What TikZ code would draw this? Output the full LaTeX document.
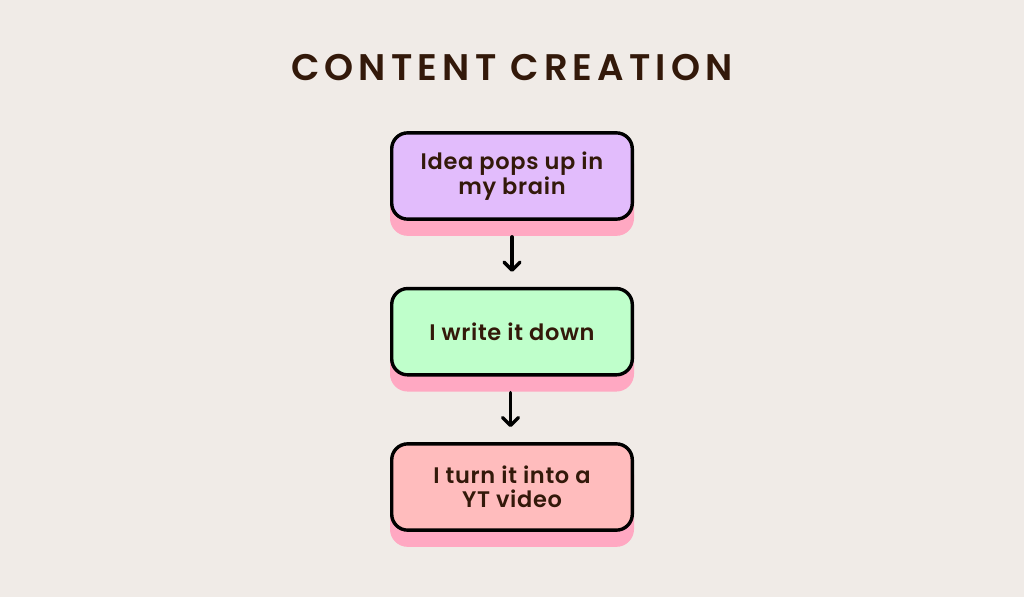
\documentclass[tikz,border=0pt]{standalone}
\usepackage{fontspec}
\setmainfont{Poppins}[UprightFont={* SemiBold},LetterSpace=3]
\newfontfamily\titlefont{Poppins}[UprightFont={* SemiBold},LetterSpace=14]
\usetikzlibrary{arrows.meta}
\definecolor{bg}{HTML}{F0EBE7}
\definecolor{ink}{HTML}{33190A}
\definecolor{lav}{HTML}{E2BCFC}
\definecolor{mint}{HTML}{BFFFCB}
\definecolor{rose}{HTML}{FFBCBD}
\definecolor{shade}{HTML}{FFA8C2}
\tikzset{
  flowbox/.style={rectangle, rounded corners=16pt, draw=black, line width=3.4pt,
    minimum width=240.6pt, minimum height=86.3pt, inner sep=0pt, align=center,
    text=ink, font=\fontsize{22.5}{24.5}\selectfont,
    preaction={fill=shade, draw=shade, transform canvas={yshift=-15pt}}},
  flowarrow/.style={draw=black, line width=3.4pt, line cap=round,
    -{Straight Barb[length=8pt,width=16pt,line width=3.4pt,round]}}
}
\begin{document}
\begin{tikzpicture}[x=1pt,y=-1pt]
\fill[bg] (0,0) rectangle (1024,597);
\useasboundingbox (0,0) rectangle (1024,597);
\node[text=ink, font=\titlefont\fontsize{37}{40}\selectfont] (title) at (512,67.5) {CONTENT CREATION};
\node[flowbox, fill=lav] (b1) at (512,176) {Idea pops up in\\my brain};
\node[flowbox, fill=mint] (b2) at (512,331.7) {I write it down};
\node[flowbox, fill=rose] (b3) at (512,487) {I turn it into a\\YT video};
\draw[flowarrow] ([yshift=-16pt]b1.south) -- ([yshift=15pt]b2.north);
\draw[flowarrow] ([xshift=-1.5pt,yshift=-16pt]b2.south) -- ([xshift=-1.5pt,yshift=15pt]b3.north);
\end{tikzpicture}
\end{document}
